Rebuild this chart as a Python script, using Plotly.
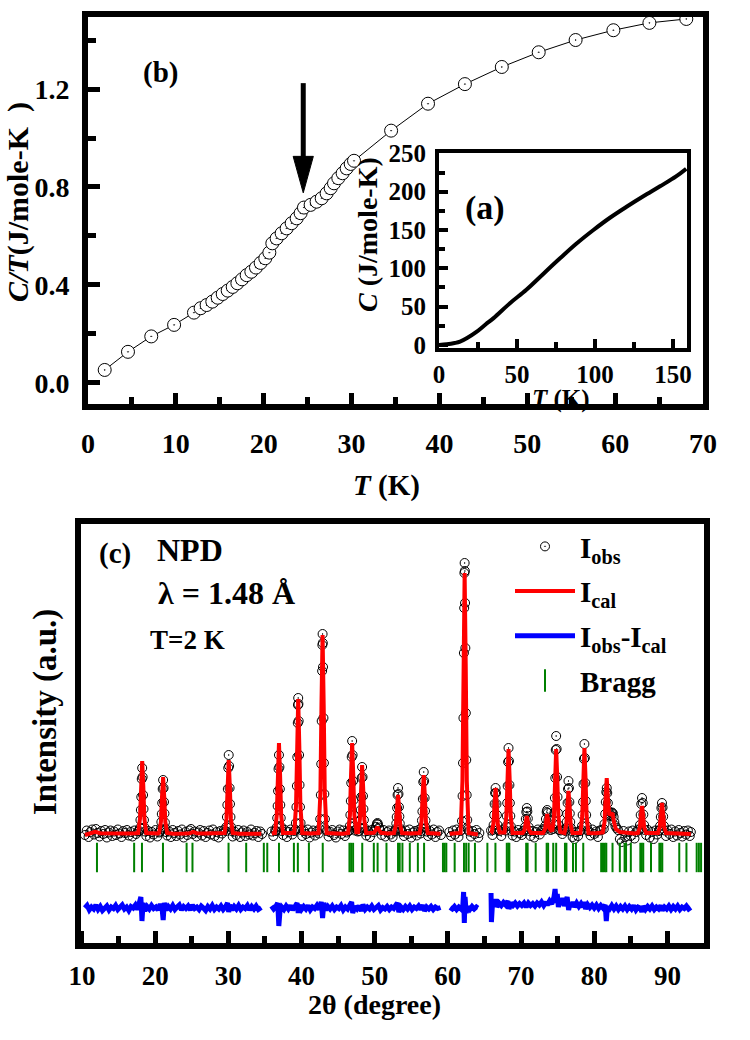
import plotly.graph_objects as go

FONT = "Liberation Serif"

# ── (b) C/T vs T (main panel) ─────────────────────────────────────────────────
ct_T = [1.9, 4.55, 7.2, 9.8,
        12.06, 12.82, 13.5, 14.15, 14.76, 15.33, 15.9, 16.47, 17.0, 17.53,
        18.06, 18.59, 19.12, 19.65, 20.18, 20.64, 20.98, 21.47, 22.04, 22.61,
        23.18, 23.75, 24.2, 24.58, 25.34, 26.02, 26.6, 27.16, 27.62, 28.0,
        28.49, 28.98, 29.44, 29.9, 30.28,
        34.5, 38.7, 42.9, 47.1, 51.3, 55.5, 59.8, 63.9, 68.1]
ct_val = [0.053, 0.127, 0.19, 0.237,
          0.287, 0.305, 0.318, 0.332, 0.348, 0.363, 0.377, 0.392, 0.407, 0.423,
          0.44, 0.454, 0.471, 0.49, 0.509, 0.532, 0.57, 0.59, 0.611, 0.631,
          0.652, 0.672, 0.693, 0.716, 0.727, 0.74, 0.754, 0.774, 0.795, 0.815,
          0.836, 0.856, 0.876, 0.894, 0.907,
          1.03, 1.14, 1.22, 1.29, 1.35, 1.40, 1.44, 1.47, 1.486]

# ── (a) inset C vs T ──────────────────────────────────────────────────────────
c_T = [0, 5, 10, 13.5, 18, 24, 30, 35, 45.5, 56, 67, 77.6, 88, 99,
       109.6, 120, 131, 141.7, 152, 158.5]
c_val = [0, 0.9, 2.5, 4.3, 9, 17, 27, 35, 54.5, 72, 93, 113, 132, 150,
         166, 180, 194, 207, 220, 230]

# ── (c) NPD pattern, T = 2 K ──────────────────────────────────────────────────
obs_tth = [
    10.40, 10.65, 10.90, 11.15, 11.40, 11.65, 11.90, 12.15, 12.40, 12.65,
    12.90, 13.15, 13.40, 13.65, 13.90, 14.15, 14.40, 14.65, 14.90, 15.15,
    15.40, 15.65, 15.90, 16.15, 16.40, 16.65, 16.90, 17.15, 17.40, 17.65,
    17.83, 17.91, 17.99, 18.05, 18.11, 18.17, 18.23, 18.29, 18.35, 18.41, 18.47, 18.55, 18.63,
    18.80, 19.05, 19.30, 19.55, 19.80, 20.05, 20.30, 20.55,
    20.69, 20.77, 20.85, 20.91, 20.97, 21.03, 21.09, 21.15, 21.21, 21.27, 21.33, 21.41, 21.49,
    21.65, 21.90, 22.15, 22.40, 22.65, 22.90, 23.15, 23.40, 23.65, 23.90,
    24.15, 24.40, 24.65, 24.90, 25.15, 25.40, 25.65, 25.90, 26.15, 26.40,
    26.65, 26.90, 27.15, 27.40, 27.65, 27.90, 28.15, 28.40, 28.65, 28.90, 29.15, 29.40,
    29.65, 29.73, 29.81, 29.87, 29.93, 29.99, 30.05, 30.11, 30.17, 30.23, 30.29, 30.37, 30.45,
    30.60, 30.85, 31.10, 31.35, 31.60, 31.85, 32.10, 32.35, 32.60, 32.85,
    33.10, 33.35, 33.60, 33.85, 34.10, 34.35, 34.60,
    35.90, 36.15, 36.40,
    36.52, 36.60, 36.68, 36.74, 36.80, 36.86, 36.92, 36.98, 37.04, 37.10, 37.16, 37.24, 37.32,
    37.50, 37.75, 38.00, 38.25, 38.50, 38.75, 39.00,
    39.15, 39.23, 39.31, 39.37, 39.43, 39.49, 39.52, 39.55, 39.58, 39.61, 39.67, 39.73, 39.79, 39.87, 39.95,
    40.10, 40.35, 40.60, 40.85, 41.10, 41.35, 41.60, 41.85, 42.10, 42.35,
    42.48, 42.56, 42.64, 42.70, 42.76, 42.82, 42.85, 42.88, 42.91, 42.94, 43.00, 43.06, 43.12, 43.20, 43.28,
    43.45, 43.70, 43.95, 44.20, 44.45, 44.70, 44.95, 45.20, 45.45, 45.70, 45.95, 46.20, 46.45,
    46.52, 46.60, 46.68, 46.74, 46.80, 46.86, 46.92, 46.98, 47.04, 47.10, 47.16, 47.24, 47.32,
    47.50, 47.70,
    47.88, 47.96, 48.04, 48.10, 48.16, 48.22, 48.28, 48.34, 48.40, 48.46, 48.52, 48.60, 48.68,
    48.85, 49.10, 49.35, 49.60, 49.85,
    50.00, 50.15, 50.30, 50.38, 50.45, 50.60, 50.75,
    50.95, 51.20, 51.45, 51.70, 51.95, 52.20, 52.45, 52.70,
    52.79, 52.87, 52.95, 53.01, 53.07, 53.13, 53.19, 53.25, 53.31, 53.37, 53.43, 53.51, 53.59,
    53.75, 54.00, 54.25, 54.50, 54.75, 55.00, 55.25, 55.50, 55.75, 56.00, 56.25,
    56.30, 56.38, 56.46, 56.52, 56.58, 56.64, 56.70, 56.76, 56.82, 56.88, 56.94, 57.02, 57.10,
    57.30, 57.55, 57.80, 58.05, 58.30, 58.55, 58.80, 59.05,
    60.20, 60.45, 60.70, 60.95, 61.20, 61.45, 61.70,
    61.85, 61.93, 62.01, 62.07, 62.13, 62.19, 62.23, 62.26, 62.29, 62.32, 62.35, 62.39, 62.45, 62.51, 62.57, 62.65, 62.73,
    62.90, 63.15, 63.40, 63.65, 63.90, 64.15, 64.30,
    65.90, 66.10,
    66.17, 66.25, 66.33, 66.39, 66.45, 66.52, 66.58, 66.64, 66.70, 66.78, 66.86,
    67.05, 67.30, 67.55,
    67.89, 67.97, 68.05, 68.11, 68.17, 68.23, 68.29, 68.35, 68.41, 68.47, 68.53, 68.61, 68.69,
    68.85, 69.10, 69.35, 69.60, 69.85, 70.10, 70.35,
    70.45, 70.55, 70.65, 70.72, 70.79, 70.86, 70.93, 71.03, 71.13,
    71.30, 71.55, 71.80, 72.05, 72.30, 72.55, 72.80, 73.05,
    73.20, 73.30, 73.40, 73.50, 73.57, 73.64, 73.74, 73.84,
    73.95, 74.05,
    74.40, 74.48, 74.56, 74.62, 74.68, 74.74, 74.80, 74.86, 74.92, 74.98, 75.04, 75.12, 75.20,
    75.40, 75.65, 75.90,
    76.08, 76.16, 76.24, 76.30, 76.36, 76.42, 76.48, 76.54, 76.60, 76.66, 76.72, 76.80, 76.88,
    77.05, 77.30, 77.55, 77.80, 78.05,
    78.26, 78.34, 78.42, 78.48, 78.54, 78.60, 78.66, 78.72, 78.78, 78.84, 78.90, 78.98, 79.06,
    79.25, 79.50, 79.75, 80.00, 80.25, 80.50, 80.75, 81.00,
    81.30, 81.40, 81.50, 81.58, 81.65, 81.71, 81.78, 81.86, 81.95, 82.05,
    82.15, 82.25, 82.35, 82.45, 82.55, 82.65, 82.75, 82.90, 83.05,
    83.25, 83.50, 83.75, 84.00, 84.25, 84.50, 84.75, 85.00, 85.25, 85.50, 85.75, 86.00,
    86.15, 86.25, 86.35, 86.43, 86.53, 86.63, 86.71, 86.81, 86.91,
    87.10, 87.35, 87.60, 87.85, 88.10, 88.35, 88.60, 88.85,
    88.90, 89.00, 89.10, 89.18, 89.26, 89.34, 89.42, 89.52, 89.62,
    89.80, 90.05, 90.30, 90.55, 90.80, 91.05, 91.30, 91.55, 91.80, 92.05,
    92.30, 92.55, 92.80, 93.05, 93.20,
]
obs_cnt = [
    -20, 25, -40, 10, 35, -15, 40, 0, -35, 20,
    -10, 30, -45, 5, 25, -30, 15, -20, 35, -5,
    -40, 20, 0, 30, -25, 10, -35, 25, -10, 15,
    20, 50, 130, 230, 360, 540, 650, 560, 380, 240, 130, 55, 15,
    -30, 20, -45, 10, -15, 30, -35, 5,
    15, 40, 110, 190, 300, 440, 530, 450, 310, 195, 105, 45, 10,
    -25, 15, -40, 30, 0, -30, 20, -15, 35, -45,
    10, -20, 25, 40, -10, 15, -35, 5, 30, -25,
    20, -40, 0, 25, -15, 35, -30, 10, -45, 20, -5, 30,
    20, 60, 160, 280, 440, 650, 780, 670, 450, 290, 160, 60, 20,
    -35, 15, -20, 30, -40, 5, 25, -30, 10, -15,
    35, -25, 0, 20, -40, 15, -10,
    15, -30, 25,
    20, 55, 150, 270, 420, 640, 780, 660, 440, 280, 150, 60, 20,
    -20, 30, -40, 10, 35, -15, 20,
    30, 100, 260, 470, 760, 1100, 1280, 1350, 1290, 1120, 780, 480, 260, 100, 30,
    -30, 20, -10, 35, -45, 5, 25, -25, 15, -5,
    40, 140, 380, 690, 1120, 1620, 1880, 1990, 1900, 1660, 1150, 700, 390, 140, 40,
    20, -35, 10, 30, -20, -45, 15, 35, -10, 25, -30, 5, 20,
    25, 70, 180, 320, 500, 760, 920, 780, 520, 330, 180, 70, 25,
    40, 15,
    20, 50, 130, 230, 360, 550, 660, 560, 370, 240, 130, 50, 15,
    -25, 20, -40, 30, 10,
    30, 60, 90, 100, 85, 55, 25,
    -20, 30, -35, 10, 25, -15, -40, 20,
    15, 40, 95, 160, 250, 380, 450, 390, 260, 165, 95, 40, 15,
    15, -30, 25, -10, 35, -45, 5, 20, -25, 30, -5,
    20, 50, 125, 215, 340, 510, 610, 520, 350, 220, 125, 50, 15,
    -30, 20, -15, 35, -40, 10, 25, -20,
    10, -30, 25, -15, 35, -40, 20,
    30, 120, 370, 700, 1150, 1800, 2250, 2600, 2700, 2620, 2300, 1850, 1200, 730, 380, 130, 35,
    15, -35, 20, -10, 30, -45, 0,
    25, -20,
    30, 80, 180, 290, 400, 450, 400, 290, 180, 80, 30,
    20, -30, 35,
    25, 65, 170, 300, 470, 710, 850, 720, 480, 300, 170, 65, 20,
    -25, 15, -40, 30, 0, -20, 25,
    20, 60, 140, 210, 250, 215, 145, 60, 20,
    -30, 20, -45, 10, 35, -15, 25, 40,
    30, 70, 140, 210, 230, 200, 130, 70,
    45, 30,
    40, 90, 200, 350, 550, 830, 970, 840, 560, 360, 200, 80, 30,
    25, -10, 30,
    20, 50, 110, 190, 300, 440, 520, 450, 310, 195, 110, 50, 20,
    -40, -60, 10, -30, 20,
    30, 70, 180, 310, 490, 740, 890, 750, 500, 320, 180, 70, 25,
    20, -25, 35, -10, 15, -40, 25, 30,
    40, 90, 190, 310, 410, 450, 400, 300, 220, 180,
    170, 185, 200, 205, 195, 160, 110, 70, 50,
    30, -60, -90, 20, -40, -75, 15, -30, 25, -55, 10, 35,
    30, 80, 180, 290, 350, 300, 185, 80, 30,
    -20, 30, -45, 10, -60, 25, -15, 20,
    30, 70, 160, 250, 300, 255, 165, 70, 25,
    -30, 25, -10, 35, -40, 15, -25, 30, 0, -35,
    20, -15, 25, -30, 10,
]

calc_tth = [
    10.4, 11.2, 11.8, 12.5, 13.5, 15.0, 16.5, 17.3,
    17.68, 17.93, 18.08, 18.23, 18.38, 18.53, 18.78, 19.6, 20.4,
    20.54, 20.79, 20.94, 21.09, 21.24, 21.39, 21.64,
    22.5, 24.0, 24.7, 25.2, 25.7, 26.5, 28.0, 29.3,
    29.5, 29.75, 29.9, 30.05, 30.2, 30.35, 30.6, 31.5, 33.0, 34.5, None,
    35.95, 36.37, 36.62, 36.77, 36.92, 37.07, 37.22, 37.47, 38.3,
    39.0, 39.25, 39.4, 39.55, 39.7, 39.85, 40.1, 41.2,
    42.33, 42.58, 42.73, 42.88, 43.03, 43.18, 43.43, 44.5, 45.6,
    46.37, 46.62, 46.77, 46.92, 47.07, 47.22, 47.5,
    47.73, 47.98, 48.13, 48.28, 48.43, 48.58, 48.83, 49.6,
    49.9, 50.15, 50.38, 50.6, 50.85, 51.8,
    52.64, 52.89, 53.04, 53.19, 53.34, 53.49, 53.74, 54.9,
    56.15, 56.4, 56.55, 56.7, 56.85, 57.0, 57.25, 58.2, 59.0, None,
    60.25, 61.0, 61.74, 61.99, 62.14, 62.29, 62.44, 62.59, 62.84, 63.5, 64.1, None,
    65.9, 65.97, 66.22, 66.37, 66.52, 66.67, 66.82, 67.07, 67.5,
    67.74, 67.99, 68.14, 68.29, 68.44, 68.59, 68.84, 69.6,
    70.24, 70.49, 70.64, 70.79, 70.94, 71.09, 71.34, 72.2,
    73.02, 73.27, 73.42, 73.57, 73.72, 73.87, 74.1,
    74.3, 74.5, 74.65, 74.8, 74.95, 75.1, 75.35,
    75.93, 76.18, 76.33, 76.48, 76.63, 76.78, 77.03, 77.6,
    78.11, 78.36, 78.51, 78.66, 78.81, 78.96, 79.21, 80.2,
    81.16, 81.41, 81.56, 81.71, 81.86, 82.05, 82.3, 82.5, 82.7, 82.95, 83.5, 84.6, 85.5,
    85.98, 86.23, 86.38, 86.53, 86.68, 86.83, 87.08, 88.0,
    88.71, 88.96, 89.11, 89.26, 89.41, 89.56, 89.81, 91.0, 92.3, 93.2,
]
calc_cnt = [
    -20, -5, 12, -2, -5, -3, -5, -3,
    0, 144, 468, 720, 468, 144, 0, -5, -5,
    0, 112, 364, 560, 364, 112, 0,
    -8, -6, -3, 12, -3, -5, -5, -3,
    0, 146, 475, 730, 475, 146, 0, -8, -8, -8, None,
    -5, 0, 180, 585, 900, 585, 180, 0, -5,
    0, 268, 871, 1340, 871, 268, 0, -5,
    0, 396, 1287, 1980, 1287, 396, 0, -8, -8,
    0, 180, 585, 900, 585, 180, 8,
    8, 136, 442, 680, 442, 136, 0, -3,
    2, 30, 60, 30, 2, -5,
    0, 76, 247, 380, 247, 76, 0, -5,
    0, 116, 377, 580, 377, 116, 0, -5, -8, None,
    -8, -5, 0, 520, 1690, 2600, 1690, 520, 0, -10, -15, None,
    -5, 0, 90, 293, 450, 293, 90, 5, 5,
    5, 168, 546, 840, 546, 168, 0, -5,
    0, 34, 110, 170, 110, 34, 0, -5,
    0, 38, 124, 190, 124, 45, 25,
    30, 168, 546, 840, 546, 168, 10,
    0, 84, 273, 420, 273, 84, 0, -5,
    0, 170, 553, 850, 553, 170, 0, -3,
    5, 110, 358, 550, 358, 190, 185, 200, 110, 40, 10, 0, -5,
    0, 54, 176, 270, 176, 54, 0, -5,
    0, 60, 195, 300, 195, 60, 0, -5, -8, -10,
]

# difference curve, already shifted below the pattern
diff_tth = [
    10.4, 10.7, 11.0, 11.3, 11.6, 11.9, 12.2, 12.5, 12.8, 13.1, 13.4, 13.7,
    14.0, 14.3, 14.6, 14.9, 15.2, 15.5, 15.8, 16.1, 16.4, 16.7, 17.0, 17.3,
    17.6, 17.9, 18.05, 18.2, 18.35, 18.6, 18.9, 19.2, 19.5, 19.8, 20.1, 20.4,
    20.7, 20.95, 21.1, 21.25, 21.5, 21.8, 22.1, 22.4, 22.7, 23.0, 23.3, 23.6,
    23.9, 24.2, 24.5, 24.8, 25.1, 25.4, 25.7, 26.0, 26.3, 26.6, 26.9, 27.2,
    27.5, 27.8, 28.1, 28.4, 28.7, 29.0, 29.3, 29.6, 29.9, 30.05, 30.2, 30.5,
    30.8, 31.1, 31.4, 31.7, 32.0, 32.3, 32.6, 32.9, 33.2, 33.5, 33.8, 34.1, 34.5, None,
    35.9, 36.2, 36.5, 36.75, 36.9, 37.05, 37.3, 37.6, 37.9, 38.2, 38.5, 38.8,
    39.1, 39.4, 39.55, 39.7, 40.0, 40.3, 40.6, 40.9, 41.2, 41.5, 41.8, 42.1,
    42.4, 42.7, 42.88, 43.05, 43.3, 43.6, 43.9, 44.2, 44.5, 44.8, 45.1, 45.4,
    45.7, 46.0, 46.3, 46.6, 46.85, 47.0, 47.3, 47.6, 47.9, 48.2, 48.4, 48.7,
    49.0, 49.3, 49.6, 49.9, 50.2, 50.5, 50.8, 51.1, 51.4, 51.7, 52.0, 52.3,
    52.6, 52.9, 53.1, 53.3, 53.6, 53.9, 54.2, 54.5, 54.8, 55.1, 55.4, 55.7,
    56.0, 56.3, 56.6, 56.8, 57.1, 57.4, 57.7, 58.0, 58.3, 58.6, 59.0, None,
    60.3, 60.6, 60.9, 61.2, 61.5, 61.8, 62.05, 62.15, 62.25, 62.35, 62.5, 62.7,
    63.0, 63.3, 63.6, 63.9, 64.1, None,
    65.9, 65.95, 66.1, 66.4, 66.55, 66.7, 67.0, 67.3, 67.6, 67.9, 68.2, 68.35,
    68.6, 68.9, 69.2, 69.5, 69.8, 70.1, 70.4, 70.7, 71.0, 71.3, 71.6, 71.9,
    72.2, 72.5, 72.8, 73.1, 73.4, 73.6, 73.9, 74.2, 74.5, 74.65, 74.8, 74.95,
    75.1, 75.3, 75.5, 75.7, 75.9, 76.1, 76.3, 76.5, 76.7, 76.9, 77.1, 77.3,
    77.6, 77.9, 78.2, 78.5, 78.65, 78.8, 79.1, 79.4, 79.7, 80.0, 80.3, 80.6,
    80.9, 81.2, 81.5, 81.65, 81.8, 82.1, 82.4, 82.7, 83.0, 83.3, 83.6, 83.9,
    84.2, 84.5, 84.8, 85.1, 85.4, 85.7, 86.0, 86.3, 86.5, 86.7, 87.0, 87.3,
    87.6, 87.9, 88.2, 88.5, 88.8, 89.1, 89.3, 89.6, 89.9, 90.2, 90.5, 90.8,
    91.1, 91.4, 91.7, 92.0, 92.3, 92.6, 92.9, 93.2,
]
diff_cnt = [
    -750, -725, -770, -740, -760, -720, -765, -735, -775, -745, -730, -770,
    -740, -755, -725, -765, -745, -720, -760, -740, -775, -735, -750, -720,
    -765, -700, -640, -880, -700, -780, -735, -760, -725, -755, -740, -770,
    -710, -760, -870, -700, -770, -735, -760, -725, -765, -740, -720, -770,
    -735, -755, -730, -770, -720, -755, -740, -765, -730, -750, -775, -735,
    -760, -725, -765, -740, -760, -730, -765, -740, -700, -790, -720, -770,
    -735, -760, -725, -765, -740, -755, -725, -770, -735, -760, -730, -765, -745, None,
    -730, -760, -735, -700, -930, -790, -740, -765, -730, -760, -725, -770,
    -735, -700, -800, -720, -765, -735, -760, -725, -770, -740, -755, -725,
    -765, -690, -850, -700, -770, -735, -760, -730, -765, -740, -755, -725,
    -770, -740, -760, -725, -690, -800, -735, -760, -730, -780, -715, -765,
    -740, -760, -730, -765, -740, -725, -770, -745, -760, -735, -765, -740,
    -755, -730, -700, -790, -740, -765, -735, -760, -730, -765, -740, -755,
    -730, -765, -720, -780, -740, -760, -735, -765, -740, -755, -745, None,
    -745, -760, -735, -765, -740, -760, -720, -590, -900, -640, -800, -740,
    -765, -735, -760, -740, -750, None,
    -600, -890, -700, -720, -660, -740, -700, -725, -695, -720, -680, -760,
    -700, -725, -700, -730, -705, -725, -700, -740, -700, -725, -705, -730,
    -700, -720, -690, -725, -690, -720, -680, -710, -640, -560, -700, -610,
    -740, -660, -720, -650, -730, -680, -640, -770, -700, -740, -690, -740,
    -700, -735, -705, -740, -690, -760, -715, -745, -720, -750, -720, -755,
    -725, -750, -720, -880, -740, -760, -725, -760, -730, -765, -735, -760,
    -730, -765, -735, -760, -725, -770, -740, -750, -790, -730, -765, -735,
    -760, -730, -765, -740, -760, -725, -775, -740, -760, -730, -765, -735,
    -760, -730, -765, -740, -755, -730, -760, -745,
]

bragg_tth = [12.05, 17.13, 18.2, 21.07, 24.3, 25.1, 30.03, 32.44, 34.85, 35.32,
             36.92, 38.96, 39.5, 41.01, 42.9, 46.55, 46.78, 47.05, 48.3, 49.88,
             50.4, 51.61, 53.19, 53.42, 53.79, 54.8, 55.9, 56.75, 59.33, 59.56,
             59.79, 60.93, 62.2, 62.5, 62.84, 63.7, 65.4, 66.5, 68.05, 68.25,
             68.4, 70.7, 70.9, 72.0, 73.5, 73.7, 74.4, 74.8, 76.0, 76.2,
             77.1, 77.5, 78.5, 80.95, 81.2, 81.45, 81.65, 82.5, 83.5, 84.15,
             84.35, 85.0, 86.3, 86.5, 86.7, 87.76, 88.9, 89.1, 89.3, 91.62,
             92.6, 94.0, 94.3, 94.6]
BRAGG_LEVEL = -245

assert len(obs_tth) == len(obs_cnt)
assert len(calc_tth) == len(calc_cnt)
assert len(diff_tth) == len(diff_cnt)

fig = go.Figure()

# ── Main C/T curve ────────────────────────────────────────────────────────────
fig.add_trace(go.Scatter(
    x=ct_T, y=ct_val, xaxis="x", yaxis="y",
    mode="lines+markers",
    line=dict(color="black", width=1),
    marker=dict(symbol="circle-dot", size=13, color="white",
                line=dict(color="black", width=1)),
    showlegend=False, hoverinfo="skip",
))

# ── Inset C curve ─────────────────────────────────────────────────────────────
fig.add_trace(go.Scatter(
    x=c_T, y=c_val, xaxis="x2", yaxis="y2",
    mode="lines", line=dict(color="black", width=4, shape="spline"),
    showlegend=False, hoverinfo="skip",
))

# ── NPD pattern ───────────────────────────────────────────────────────────────
fig.add_trace(go.Scatter(
    x=obs_tth, y=obs_cnt, xaxis="x3", yaxis="y3",
    mode="markers", name="I<sub>obs</sub>", legendgroup="a",
    marker=dict(symbol="circle-open-dot", size=9, color="black",
                line=dict(width=1)),
    hoverinfo="skip",
))
fig.add_trace(go.Scatter(
    x=calc_tth, y=calc_cnt, xaxis="x3", yaxis="y3",
    mode="lines", name="I<sub>cal</sub>", legendgroup="b",
    line=dict(color="#ff0000", width=4),
    hoverinfo="skip",
))
fig.add_trace(go.Scatter(
    x=diff_tth, y=diff_cnt, xaxis="x3", yaxis="y3",
    mode="lines", name="I<sub>obs</sub>-I<sub>cal</sub>", legendgroup="c",
    line=dict(color="#0000ff", width=5),
    hoverinfo="skip",
))
fig.add_trace(go.Scatter(
    x=bragg_tth, y=[BRAGG_LEVEL] * len(bragg_tth), xaxis="x3", yaxis="y3",
    mode="markers", name="Bragg", legendgroup="d",
    marker=dict(symbol="line-ns-open", size=21, color="#008000",
                line=dict(color="#008000", width=2)),
    hoverinfo="skip",
))

# ── Axes ──────────────────────────────────────────────────────────────────────
def frame_axis(**kw):
    base = dict(
        showline=True, mirror=True, linecolor="black",
        showgrid=False, zeroline=False, automargin=False,
        ticks="inside", tickcolor="black",
        tickfont=dict(family=FONT, size=28, color="black", weight="bold"),
    )
    base.update(kw)
    return base

W, H = 750, 1040

fig.update_layout(
    width=W, height=H,
    margin=dict(l=0, r=0, t=0, b=0, autoexpand=False),
    paper_bgcolor="white", plot_bgcolor="white",
    font=dict(family=FONT, color="black"),
    xaxis=frame_axis(
        domain=[88 / W, 703 / W], range=[0, 70], anchor="y",
        linewidth=6, tickwidth=5, ticklen=11, dtick=10, tick0=0,
        ticklabelstandoff=9,
        minor=dict(ticks="inside", dtick=5, tick0=0, ticklen=7,
                   tickwidth=5, tickcolor="black"),
    ),
    yaxis=frame_axis(
        domain=[1 - 404 / H, 1 - 17 / H], range=[-0.086, 1.494], anchor="x",
        linewidth=6, tickwidth=5, ticklen=12, dtick=0.4, tick0=0,
        tickformat=".1f", ticklabelstandoff=7,
        minor=dict(ticks="inside", dtick=0.2, tick0=0, ticklen=8,
                   tickwidth=5, tickcolor="black"),
    ),
    xaxis2=frame_axis(
        domain=[439 / W, 687 / W], range=[0, 159], anchor="y2",
        linewidth=4, tickwidth=4, ticklen=9, dtick=50, tick0=0,
        ticklabelstandoff=1,
        tickfont=dict(family=FONT, size=25, color="black", weight="bold"),
        minor=dict(ticks="inside", dtick=25, tick0=0, ticklen=6,
                   tickwidth=4, tickcolor="black"),
    ),
    yaxis2=frame_axis(
        domain=[1 - 348 / H, 1 - 153 / H], range=[-4, 250.5], anchor="x2",
        linewidth=4, tickwidth=4, ticklen=9, dtick=50, tick0=0,
        ticklabelstandoff=4,
        tickfont=dict(family=FONT, size=25, color="black", weight="bold"),
        minor=dict(ticks="inside", dtick=25, tick0=0, ticklen=6,
                   tickwidth=4, tickcolor="black"),
    ),
    xaxis3=frame_axis(
        domain=[80.5 / W, 704 / W], range=[9.8, 95], anchor="y3",
        linewidth=6, tickwidth=5, ticklen=12, dtick=10, tick0=0,
        ticklabelstandoff=4,
        tickfont=dict(family=FONT, size=27, color="black", weight="bold"),
        minor=dict(ticks="inside", dtick=5, tick0=0, ticklen=7,
                   tickwidth=5, tickcolor="black"),
    ),
    yaxis3=frame_axis(
        domain=[1 - 943 / H, 1 - 524 / H], range=[-1100, 3090], anchor="x3",
        linewidth=6, ticks="", showticklabels=False,
    ),
    legend=dict(
        x=0.68, y=0.499, xanchor="left", yanchor="top",
        bgcolor="rgba(0,0,0,0)", itemwidth=60, tracegroupgap=4,
        font=dict(family=FONT, size=29, color="black", weight="bold"),
    ),
)

# ── Arrow marking the anomaly ─────────────────────────────────────────────────
fig.add_shape(type="line", xref="x", yref="y",
              x0=24.5, x1=24.5, y0=1.224, y1=0.9,
              line=dict(color="black", width=5))
fig.add_shape(type="path", xref="x", yref="y",
              path="M 23.35,0.925 L 25.65,0.925 L 24.5,0.776 Z",
              fillcolor="black", line=dict(color="black", width=1))

# ── Text ──────────────────────────────────────────────────────────────────────
def label(text, x, y, size=26, angle=0):
    fig.add_annotation(
        text=text, x=x / W, y=1 - y / H, xref="paper", yref="paper",
        showarrow=False, textangle=angle, xanchor="center", yanchor="middle",
        font=dict(family=FONT, size=size, color="black", weight="bold"),
    )

label("(b)", 160, 73, 29)
label("(a)", 485, 208, 34)
label("<i>T</i> (K)", 386, 485, 29)
label("<i>C/T</i>(J/mole-K  )", 18, 202, 30, -90)
label("<i>C</i> (J/mole-K)", 368, 235, 28, -90)
label("<i>T</i> (K)", 561, 399, 25)
label("(c)", 115, 553, 29)
label("NPD", 190, 550, 32)
label("λ = 1.48 Å", 227, 593, 32)
label("T=2 K", 187, 640, 27)
label("2θ (degree)", 374, 1004, 28)
label("Intensity (a.u.)", 45, 712, 33, -90)

fig.write_html(
    "out.html",
    config={"displayModeBar": False},
    post_script="document.body.style.margin='0px';",
)
